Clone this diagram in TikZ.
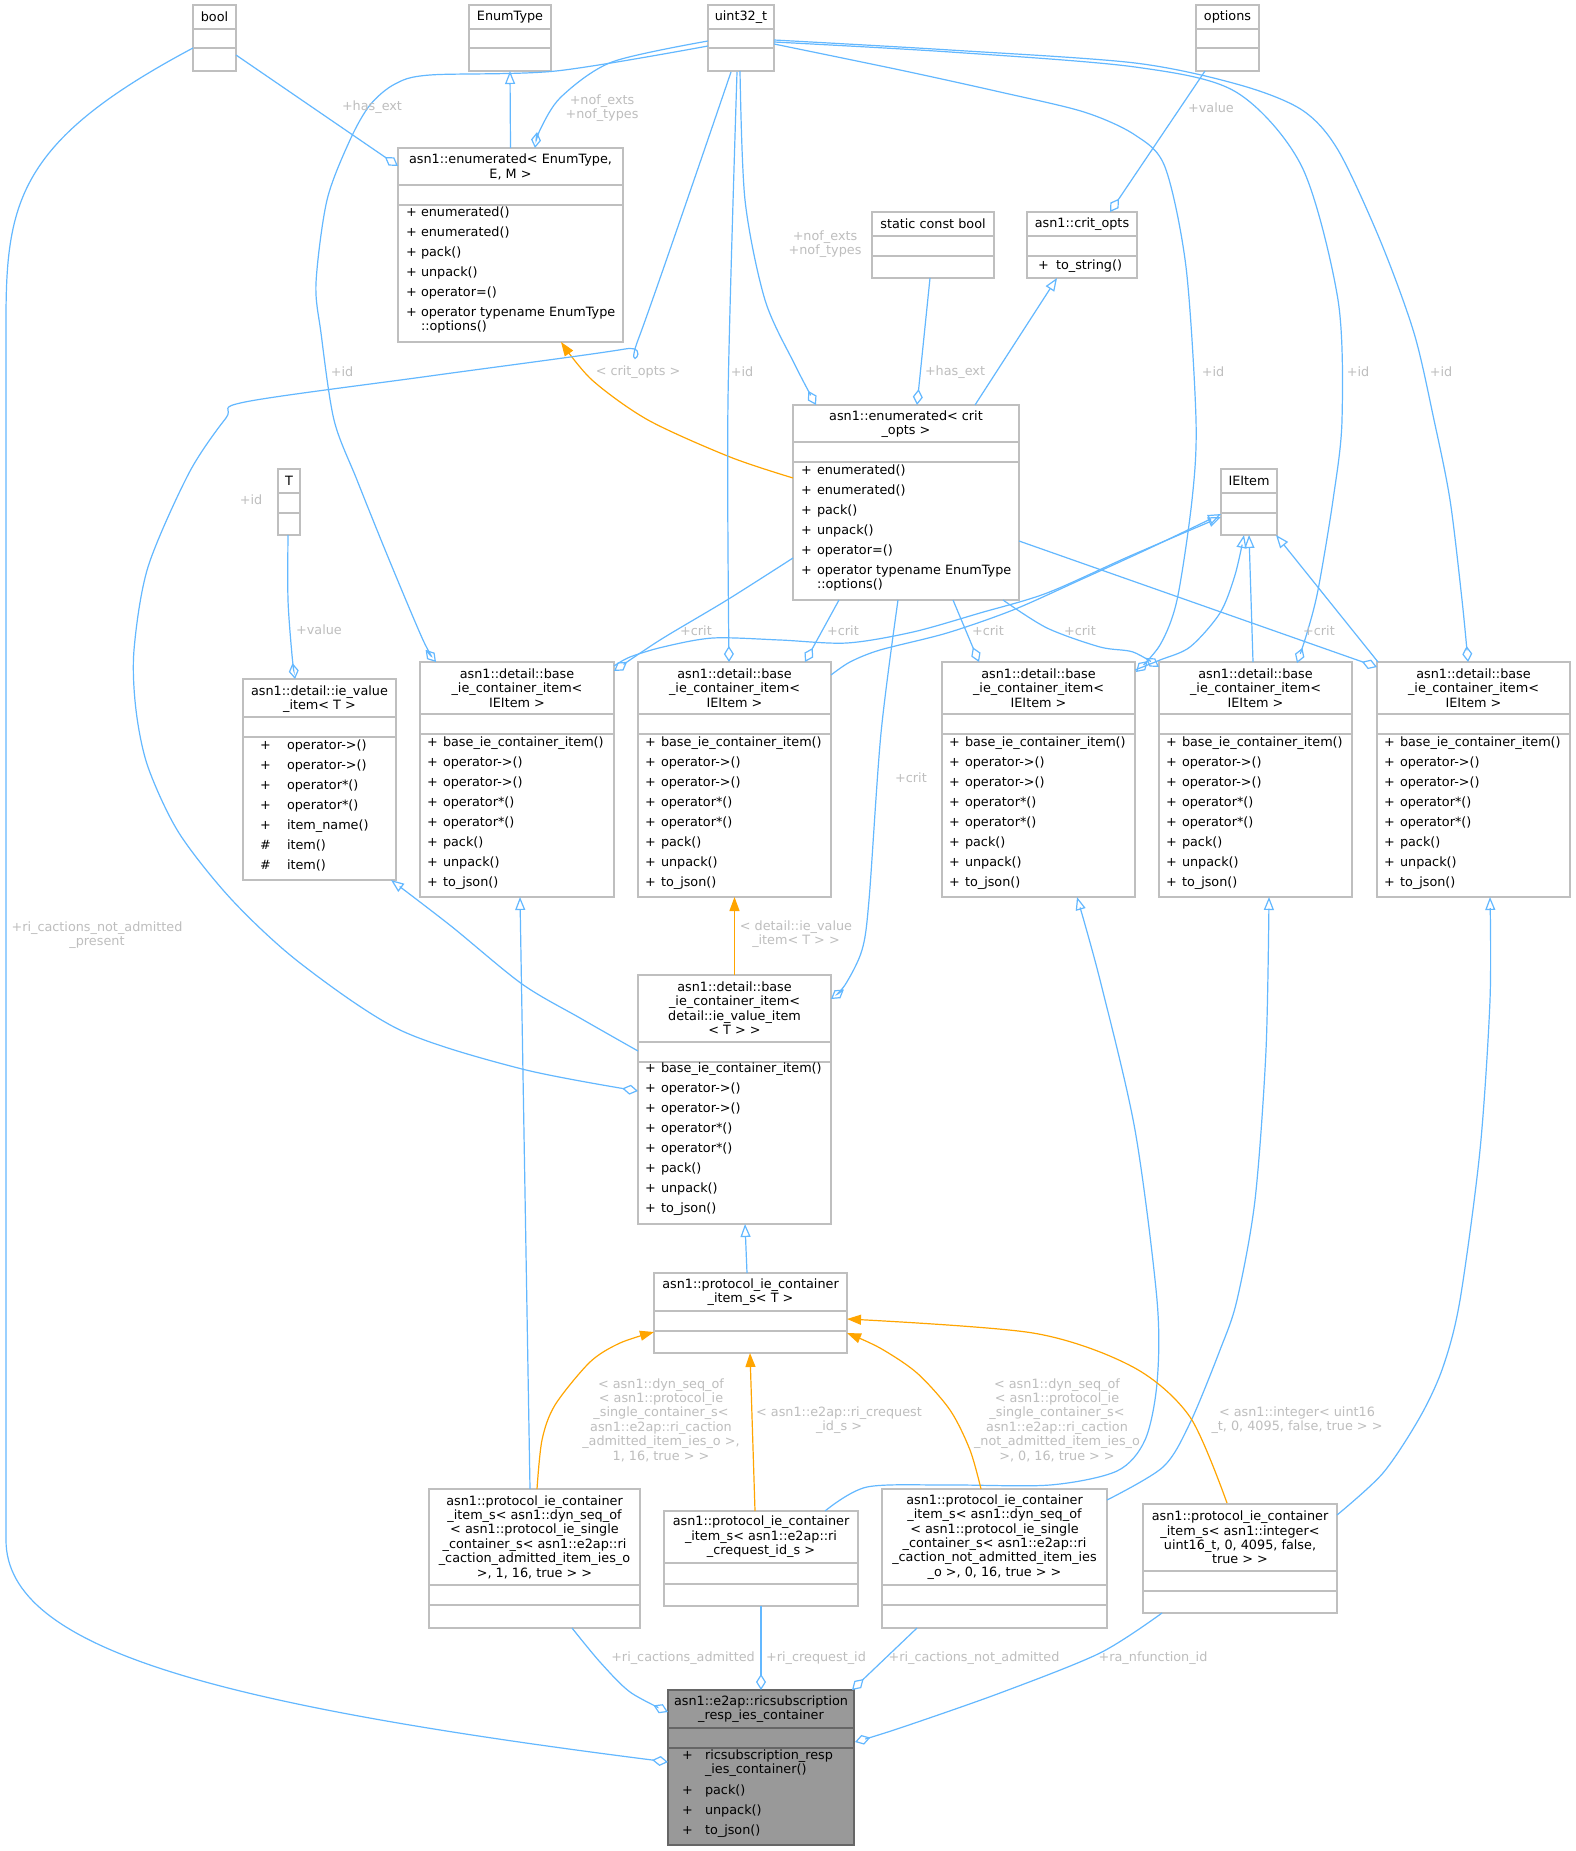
\documentclass[tikz,border=0pt]{standalone}
\usepackage{fontspec}
\setmainfont{DejaVu Sans}
\usetikzlibrary{arrows.meta}
\definecolor{eblue}{HTML}{63B8FF}
\definecolor{eorange}{HTML}{FFA500}
\definecolor{lgray}{HTML}{BEBEBE}
\definecolor{bgray}{HTML}{BFBFBF}
\definecolor{mfill}{HTML}{999999}
\definecolor{mdraw}{HTML}{666666}
\tikzset{
  every node/.style={inner sep=0pt, outer sep=0pt, font=\fontsize{12.8}{14.4}\selectfont},
  box/.style={draw=bgray, line width=1.3pt, fill=white, rectangle},
  title/.style={align=center},
  mtext/.style={anchor=mid west},
  lbl/.style={text=lgray, align=center},
  edge/.style={draw=eblue, line width=1.2pt},
  agg/.style={edge, -{Diamond[open, length=16pt, width=10pt]}},
  inh/.style={edge, -{Triangle[open, length=13pt, width=10pt]}},
  tpl/.style={draw=eorange, line width=1.2pt, -{Triangle[length=14pt, width=10pt]}},
}
% name, x1, y1, x2, y2, divider1, divider2 ; optional border colour
\newcommand\umlbox[8][bgray]{%
  \node[box, draw=#1, anchor=north west, minimum width={#5-#3}, minimum height={#6-#4}] (#2) at (#3,#4) {};
  \draw[line width=1.3pt, #1] (#3,#7) -- (#5,#7) (#3,#8) -- (#5,#8);
}
% name, symbol x, text x, first y, step, list
\newcommand\members[6]{%
  \foreach \msym/\mtxt [count=\mi] in {#6} {
    \node[mtext] (#1-s\mi) at (#2,{#4+#5*(\mi-1)}) {\msym};
    \node[mtext] (#1-t\mi) at (#3,{#4+#5*(\mi-1)}) {\mtxt};
  }%
}
\begin{document}
\begin{tikzpicture}[x=1pt, y=-1pt]
\useasboundingbox (0,0) rectangle (1575,1851);
\fill[white] (0,0) rectangle (1575,1851);

% ---------------- boxes ----------------
\umlbox{bool}{193}{5}{236}{71}{29}{48}
\node[title] (bool-n) at (214.5,17) {bool};
\umlbox{enumtype}{469}{5}{551}{71}{29}{48}
\node[title] (enumtype-n) at (510,17) {EnumType};
\umlbox{uint}{708}{5}{774}{71}{29}{48}
\node[title] (uint-n) at (741,17) {uint32\_t};
\umlbox{options}{1196}{5}{1259}{71}{29}{48}
\node[title] (options-n) at (1227.5,17) {options};

\umlbox{enumE}{398}{148}{623}{342}{185}{205}
\node[title] (enumE-n) at (510.5,167) {asn1::enumerated< EnumType,\\E, M >};
\members{enumE}{406}{421}{214}{20}{+/enumerated(),+/enumerated(),+/pack(),+/unpack(),+/operator=(),+/operator typename EnumType}
\node[mtext] (enumE-t7) at (421,328) {::options()};

\umlbox{scb}{872}{212}{994}{278}{236}{256}
\node[title] (scb-n) at (933,224) {static const bool};
\umlbox{critopts}{1027}{212}{1137}{278}{236}{256}
\node[title] (critopts-n) at (1082,224) {asn1::crit\_opts};
\members{critopts}{1038}{1056}{267}{20}{+/to\_string()}

\umlbox{enumC}{793}{405}{1019}{600}{442}{462}
\node[title] (enumC-n) at (906,424) {asn1::enumerated< crit\\\_opts >};
\members{enumC}{801}{817}{472}{20}{+/enumerated(),+/enumerated(),+/pack(),+/unpack(),+/operator=(),+/operator typename EnumType}
\node[mtext] (enumC-t7) at (817,586) {::options()};

\umlbox{ieitem}{1221}{469}{1277}{535}{493}{513}
\node[title] (ieitem-n) at (1249,481) {IEItem};
\umlbox{T}{278}{469}{300}{535}{493}{513}
\node[title] (T-n) at (289,481) {T};

\umlbox{ieval}{243}{679}{396}{880}{717}{737}
\node[title] (ieval-n) at (319.5,699) {asn1::detail::ie\_value\\\_item< T >};
\members{ieval}{260}{287}{747}{20}{+/operator->(),+/operator->(),+/operator*(),+/operator*(),+/item\_name(),\#/item(),\#/item()}

\umlbox{bA}{420}{662}{614}{897}{714}{734}
\node[title] (bA-n) at (517,688) {asn1::detail::base\\\_ie\_container\_item<\\IEItem >};
\members{bA}{427}{443}{744}{20}{+/base\_ie\_container\_item(),+/operator->(),+/operator->(),+/operator*(),+/operator*(),+/pack(),+/unpack(),+/to\_json()}
\umlbox{bB}{638}{662}{831}{897}{714}{734}
\node[title] (bB-n) at (734.5,688) {asn1::detail::base\\\_ie\_container\_item<\\IEItem >};
\members{bB}{645}{661}{744}{20}{+/base\_ie\_container\_item(),+/operator->(),+/operator->(),+/operator*(),+/operator*(),+/pack(),+/unpack(),+/to\_json()}
\umlbox{bC}{942}{662}{1135}{897}{714}{734}
\node[title] (bC-n) at (1038.5,688) {asn1::detail::base\\\_ie\_container\_item<\\IEItem >};
\members{bC}{949}{965}{744}{20}{+/base\_ie\_container\_item(),+/operator->(),+/operator->(),+/operator*(),+/operator*(),+/pack(),+/unpack(),+/to\_json()}
\umlbox{bD}{1159}{662}{1352}{897}{714}{734}
\node[title] (bD-n) at (1255.5,688) {asn1::detail::base\\\_ie\_container\_item<\\IEItem >};
\members{bD}{1166}{1182}{744}{20}{+/base\_ie\_container\_item(),+/operator->(),+/operator->(),+/operator*(),+/operator*(),+/pack(),+/unpack(),+/to\_json()}
\umlbox{bE}{1377}{662}{1570}{897}{714}{734}
\node[title] (bE-n) at (1473.5,688) {asn1::detail::base\\\_ie\_container\_item<\\IEItem >};
\members{bE}{1384}{1400}{744}{20}{+/base\_ie\_container\_item(),+/operator->(),+/operator->(),+/operator*(),+/operator*(),+/pack(),+/unpack(),+/to\_json()}

\umlbox{bv}{638}{975}{831}{1224}{1042}{1062}
\node[title] (bv-n) at (734.5,1008) {asn1::detail::base\\\_ie\_container\_item<\\detail::ie\_value\_item\\< T > >};
\members{bv}{645}{661}{1070}{20}{+/base\_ie\_container\_item(),+/operator->(),+/operator->(),+/operator*(),+/operator*(),+/pack(),+/unpack(),+/to\_json()}

\umlbox{ps}{654}{1273}{847}{1353}{1311}{1331}
\node[title] (ps-n) at (750.5,1292) {asn1::protocol\_ie\_container\\\_item\_s< T >};

\umlbox{pA}{429}{1489}{640}{1628}{1585}{1605}
\node[title] (pA-n) at (534.5,1537) {asn1::protocol\_ie\_container\\\_item\_s< asn1::dyn\_seq\_of\\< asn1::protocol\_ie\_single\\\_container\_s< asn1::e2ap::ri\\\_caction\_admitted\_item\_ies\_o\\>, 1, 16, true > >};
\umlbox{pB}{664}{1511}{858}{1606}{1563}{1584}
\node[title] (pB-n) at (761,1537) {asn1::protocol\_ie\_container\\\_item\_s< asn1::e2ap::ri\\\_crequest\_id\_s >};
\umlbox{pC}{882}{1489}{1107}{1628}{1585}{1605}
\node[title] (pC-n) at (994.5,1537) {asn1::protocol\_ie\_container\\\_item\_s< asn1::dyn\_seq\_of\\< asn1::protocol\_ie\_single\\\_container\_s< asn1::e2ap::ri\\\_caction\_not\_admitted\_item\_ies\\\_o >, 0, 16, true > >};
\umlbox{pD}{1143}{1504}{1337}{1613}{1571}{1591}
\node[title] (pD-n) at (1240,1537.5) {asn1::protocol\_ie\_container\\\_item\_s< asn1::integer<\\uint16\_t, 0, 4095, false,\\true > >};

\node[box, draw=mdraw, fill=mfill, anchor=north west, minimum width=186, minimum height=155] (main) at (668,1690) {};
\draw[line width=1.3pt, mdraw] (668,1728) -- (854,1728) (668,1748) -- (854,1748);
\node[title] (main-n) at (761,1709) {asn1::e2ap::ricsubscription\\\_resp\_ies\_container};
\node[mtext] (main-s1) at (682,1757) {+};
\node[mtext] (main-t1) at (705,1757) {ricsubscription\_resp};
\node[mtext] (main-t1b) at (705,1771) {\_ies\_container()};
\members{main2}{682}{705}{1792}{20}{+/pack(),+/unpack(),+/to\_json()}

% ---------------- connectors ----------------
\draw[agg] (236,55) -- (398,166);
\draw[agg] (193,48) .. controls (20,140) and (6,200) .. (6,320) -- (6,1540) .. controls (6,1650) and (220,1705) .. (668,1762);
\draw[inh] (enumE.north) -- (enumtype.south);
\draw[agg] plot[smooth] coordinates {(708,41) (612,62) (561,97) (540,130) (535,148)};
\draw[agg] plot[smooth] coordinates {(740,71) (745,200) (765,300) (795,365) (816,405)};
\draw[agg] (930,278) -- (917,405);
\draw[inh] (975,405) -- (1057,278);
\draw[agg] (1205,71) -- (1110,212);
\draw[tpl] plot[smooth] coordinates {(793,478) (730,457) (648,420) (592,380) (561,342)};

\draw[agg] plot[smooth] coordinates {(708,46) (556,71) (430,75) (395,84) (370,105) (350,140) (327,200) (316,283) (321,333) (334,420) (357,480) (388,557) (423,640) (436,662)};
\draw[agg] plot[smooth] coordinates {(731,72) (638,340) (625,349) (430,376) (245,402) (226,418) (189,473) (148,567) (134,650) (136,710) (148,767) (179,833) (232,900) (300,963) (400,1030) (522,1069) (638,1091)};
\draw[agg] plot[smooth] coordinates {(737,72) (728,400) (729,662)};
\draw[agg] plot[smooth] coordinates {(774,44) (900,70) (1000,92) (1084,112) (1135,135) (1165,167) (1186,267) (1196,420) (1192,500) (1177,600) (1160,645) (1136,672)};
\draw[agg] plot[smooth] coordinates {(774,42) (950,52) (1135,67) (1236,92) (1302,167) (1338,300) (1342,420) (1333,500) (1318,590) (1307,633) (1297,663)};
\draw[agg] plot[smooth] coordinates {(774,40) (950,50) (1135,63) (1240,85) (1302,110) (1338,150) (1380,240) (1414,333) (1434,420) (1450,500) (1462,600) (1468,662)};
\draw[agg] plot[smooth] coordinates {(288,535) (288,600) (292,655) (295,679)};

\draw[inh] plot[smooth] coordinates {(614,666) (630,657) (663,647) (713,638) (780,640) (847,643) (913,632) (980,613) (1047,593) (1130,556) (1221,517)};
\draw[inh] plot[smooth] coordinates {(831,675) (850,662) (880,650) (947,633) (1013,610) (1080,580) (1150,548) (1221,514)};
\draw[inh] plot[smooth] coordinates {(1135,670) (1160,660) (1190,647) (1220,613) (1235,575) (1244,535)};
\draw[inh] (1253,662) -- (1249,535);
\draw[inh] (1378,662) -- (1276,535);

\draw[agg] plot[smooth] coordinates {(793,558) (727,600) (660,640) (614,671)};
\draw[agg] (839,600) -- (805,662);
\draw[agg] (953,600) -- (979,662);
\draw[agg] plot[smooth] coordinates {(1003,600) (1047,628) (1100,647) (1133,652) (1159,667)};
\draw[agg] (1019,541) -- (1377,667);
\draw[agg] plot[smooth] coordinates {(898,600) (881,733) (869,900) (862,950) (845,985) (831,999)};

\draw[inh] plot[smooth] coordinates {(638,1051) (580,1018) (522,984) (451,926) (391,880)};
\draw[tpl] (bv.north) -- (bB.south);
\draw[inh] (747,1273) -- (745,1224);

\draw[inh] (530,1489) -- (520,897);
\draw[inh] plot[smooth] coordinates {(825,1511) (867,1487) (950,1485) (1050,1485) (1117,1471) (1145,1440) (1157,1383) (1157,1300) (1135,1130) (1100,980) (1077,897)};
\draw[inh] plot[smooth] coordinates {(1107,1500) (1163,1467) (1190,1423) (1220,1350) (1237,1300) (1255,1200) (1266,1050) (1269,897)};
\draw[inh] plot[smooth] coordinates {(1337,1515) (1383,1473) (1420,1417) (1443,1367) (1460,1300) (1480,1150) (1490,1000) (1490,897)};

\draw[tpl] plot[smooth] coordinates {(537,1489) (542,1440) (555,1405) (590,1362) (620,1343) (654,1332)};
\draw[tpl] (755,1511) -- (750,1353);
\draw[tpl] plot[smooth] coordinates {(981,1489) (970,1450) (950,1410) (917,1373) (880,1348) (847,1333)};
\draw[tpl] plot[smooth] coordinates {(1227,1503) (1190,1417) (1133,1367) (1033,1333) (847,1319)};

\draw[agg] plot[smooth] coordinates {(572,1628) (600,1662) (630,1692) (668,1712)};
\draw[agg] (761,1606) -- (761,1690);
\draw[agg] (917,1628) -- (852,1690);
\draw[agg] plot[smooth] coordinates {(1162,1613) (1100,1653) (1000,1693) (900,1728) (855,1742)};

% ---------------- labels ----------------
\node[lbl] (l1) at (372,107) {+has\_ext};
\node[lbl] (l2) at (97,935) {+ri\_cactions\_not\_admitted\\\_present};
\node[lbl] (l3) at (602,108) {+nof\_exts\\+nof\_types};
\node[lbl] (l4) at (825,244) {+nof\_exts\\+nof\_types};
\node[lbl] (l5) at (955,372) {+has\_ext};
\node[lbl] (l6) at (1211,108) {+value};
\node[lbl] (l7) at (638,372) {< crit\_opts >};
\node[lbl] (l8) at (342,372) {+id};
\node[lbl] (l9) at (251,500) {+id};
\node[lbl] (l10) at (742,372) {+id};
\node[lbl] (l11) at (1213,372) {+id};
\node[lbl] (l12) at (1358,372) {+id};
\node[lbl] (l13) at (1441,372) {+id};
\node[lbl] (l14) at (319,630) {+value};
\node[lbl] (l15) at (696,631) {+crit};
\node[lbl] (l16) at (843,631) {+crit};
\node[lbl] (l17) at (988,631) {+crit};
\node[lbl] (l18) at (1080,631) {+crit};
\node[lbl] (l19) at (1319,631) {+crit};
\node[lbl] (l20) at (911,778) {+crit};
\node[lbl] (l21) at (796,934) {< detail::ie\_value\\\_item< T > >};
\node[lbl] (l22) at (661,1420) {< asn1::dyn\_seq\_of\\< asn1::protocol\_ie\\\_single\_container\_s<\\asn1::e2ap::ri\_caction\\\_admitted\_item\_ies\_o >,\\1, 16, true > >};
\node[lbl] (l23) at (839,1420) {< asn1::e2ap::ri\_crequest\\\_id\_s >};
\node[lbl] (l24) at (1057,1420) {< asn1::dyn\_seq\_of\\< asn1::protocol\_ie\\\_single\_container\_s<\\asn1::e2ap::ri\_caction\\\_not\_admitted\_item\_ies\_o\\>, 0, 16, true > >};
\node[lbl] (l25) at (1297,1420) {< asn1::integer< uint16\\\_t, 0, 4095, false, true > >};
\node[lbl] (l26) at (683,1658) {+ri\_cactions\_admitted};
\node[lbl] (l27) at (816,1658) {+ri\_crequest\_id};
\node[lbl] (l28) at (974,1658) {+ri\_cactions\_not\_admitted};
\node[lbl] (l29) at (1153,1658) {+ra\_nfunction\_id};
\end{tikzpicture}
\end{document}
